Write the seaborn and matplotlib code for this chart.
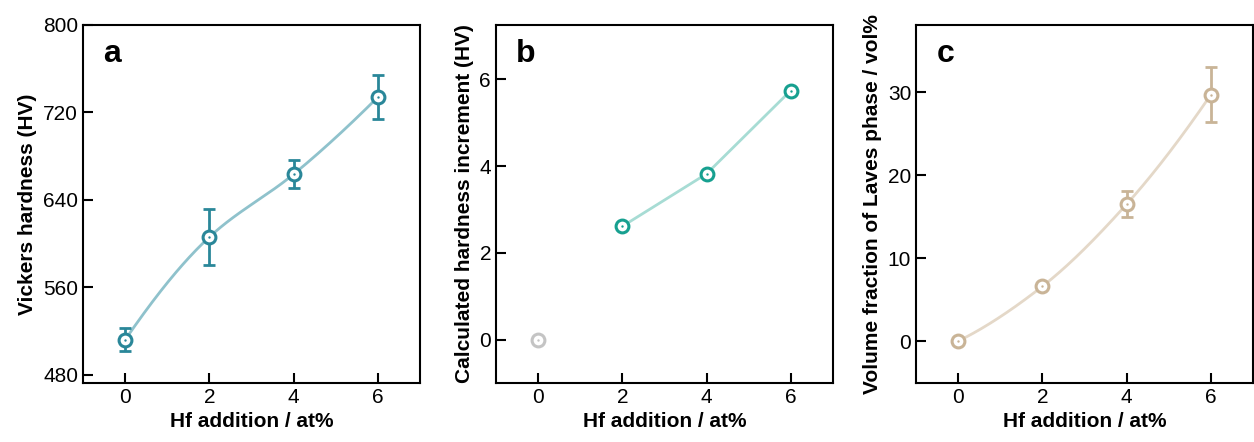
import matplotlib
matplotlib.use("Agg")
import matplotlib.pyplot as plt
import numpy as np
import pandas as pd
import seaborn as sns

# Data
hf = [0, 2, 4, 6]
hardness = [512, 606, 663.5, 734]
hardness_err = [10.5, 25.5, 13, 20]
increment = [0, 2.61, 3.82, 5.74]
laves = [0, 6.6, 16.5, 29.7]
laves_err = [0.3, 0.3, 1.6, 3.3]

sns.set_style("ticks")
plt.rcParams['font.family'] = ['Liberation Sans', 'DejaVu Sans']
plt.rcParams.update({'axes.linewidth': 1.5, 'text.color': 'black',
                     'axes.labelcolor': 'black', 'xtick.color': 'black',
                     'ytick.color': 'black'})

fig = plt.figure(figsize=(12.54, 4.42), dpi=100)
pos = [0.0662, 0.3955, 0.7305]
axes = [fig.add_axes([p, 0.1335, 0.2687, 0.81]) for p in pos]


def smooth(x, y):
    # monotone cubic (pchip) through the measured points, guide line only
    x = np.asarray(x, float)
    y = np.asarray(y, float)
    n = len(x)
    h = np.diff(x)
    d = np.diff(y) / h
    m = np.zeros(n)
    for i in range(1, n - 1):
        if d[i - 1] * d[i] > 0:
            w1 = 2 * h[i] + h[i - 1]
            w2 = h[i] + 2 * h[i - 1]
            m[i] = (w1 + w2) / (w1 / d[i - 1] + w2 / d[i])
    m[0] = ((2 * h[0] + h[1]) * d[0] - h[0] * d[1]) / (h[0] + h[1])
    m[-1] = ((2 * h[-1] + h[-2]) * d[-1] - h[-1] * d[-2]) / (h[-1] + h[-2])
    xs = np.linspace(x[0], x[-1], 300)
    k = np.clip(np.searchsorted(x, xs) - 1, 0, n - 2)
    t = (xs - x[k]) / h[k]
    h00 = 2 * t ** 3 - 3 * t ** 2 + 1
    h10 = t ** 3 - 2 * t ** 2 + t
    h01 = -2 * t ** 3 + 3 * t ** 2
    h11 = t ** 3 - t ** 2
    ys = h00 * y[k] + h10 * h[k] * m[k] + h01 * y[k + 1] + h11 * h[k] * m[k + 1]
    return pd.DataFrame({"x": xs, "y": ys})


def markers(ax, x, y, color):
    df = pd.DataFrame({"x": x, "y": y})
    sns.scatterplot(data=df, x="x", y="y", ax=ax, marker="o", s=85,
                    facecolor="white", edgecolor=color, linewidth=2.2, zorder=4)
    sns.scatterplot(data=df, x="x", y="y", ax=ax, marker="o", s=3,
                    color=color, linewidth=0, zorder=5)


def style(ax, ylabel, letter):
    ax.set_xlim(-1, 7)
    ax.set_xticks(hf)
    ax.tick_params(direction="in", length=7, width=1.5, labelsize=15)
    ax.set_xlabel("Hf addition / at%", fontsize=15, fontweight="bold", labelpad=4)
    ax.set_ylabel(ylabel, fontsize=15, fontweight="bold", labelpad=4)
    for s in ax.spines.values():
        s.set_color("black")
    ax.text(0.06, 0.92, letter, transform=ax.transAxes, fontsize=23,
            fontweight="bold", va="center", ha="left")


# a: Vickers hardness
ax = axes[0]
c_a, l_a = "#2a8799", "#8fc2cc"
sns.lineplot(data=smooth(hf, hardness), x="x", y="y", ax=ax, color=l_a, linewidth=2)
ax.errorbar(hf, hardness, yerr=hardness_err, fmt="none", ecolor=c_a,
            elinewidth=2, capsize=4.5, capthick=2, zorder=3)
markers(ax, hf, hardness, c_a)
ax.set_ylim(472.5, 800)
ax.set_yticks([480, 560, 640, 720, 800])
style(ax, "Vickers hardness (HV)", "a")

# b: calculated hardness increment
ax = axes[1]
c_b, l_b = "#17a090", "#a7dcd4"
sns.lineplot(x=hf[1:], y=increment[1:], ax=ax, color=l_b, linewidth=2)
markers(ax, hf[1:], increment[1:], c_b)
markers(ax, hf[:1], increment[:1], "#c4c4c4")
ax.set_ylim(-1, 7.25)
ax.set_yticks([0, 2, 4, 6])
style(ax, "Calculated hardness increment (HV)", "b")

# c: Laves phase fraction
ax = axes[2]
c_c, l_c = "#c9b497", "#e4d8c8"
sns.lineplot(data=smooth(hf, laves), x="x", y="y", ax=ax, color=l_c, linewidth=2)
ax.errorbar(hf, laves, yerr=laves_err, fmt="none", ecolor=c_c,
            elinewidth=2, capsize=4.5, capthick=2, zorder=3)
markers(ax, hf, laves, c_c)
ax.set_ylim(-5.05, 38.1)
ax.set_yticks([0, 10, 20, 30])
style(ax, "Volume fraction of Laves phase / vol%", "c")

fig.savefig("out.png", dpi=100)
